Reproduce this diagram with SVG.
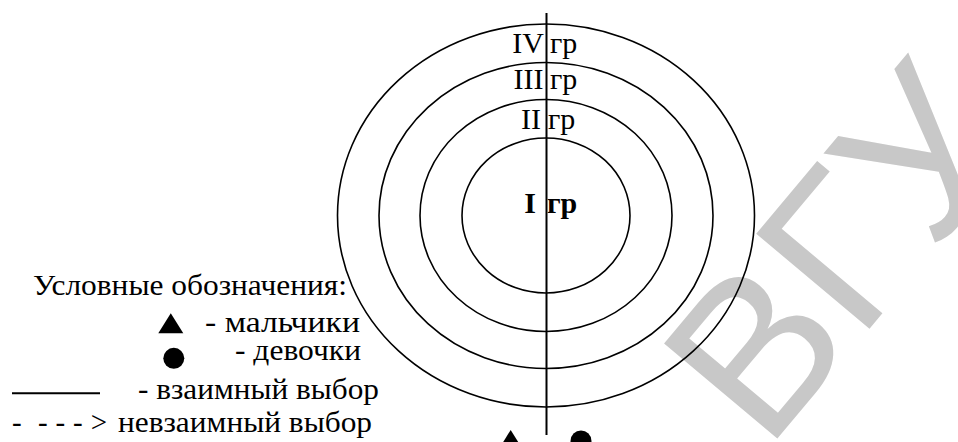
<svg xmlns="http://www.w3.org/2000/svg" width="958" height="442" viewBox="0 0 958 442">
  <style>
    .ring { fill: none; stroke: #000; stroke-width: 1.6; }
    .axis { stroke: #000; stroke-width: 2; }
    .t { font-family: "Liberation Serif", "Times New Roman", serif; fill: #000; }
    .lbl { font-size: 30px; }
    .leg { font-size: 29px; }
    .wm { font-family: "Liberation Sans", Arial, sans-serif; font-size: 215px; fill: #c8c8c8; }
  </style>
  <rect width="958" height="442" fill="#fff"/>

  <g id="watermark">
    <text class="wm" transform="translate(766,452) rotate(-50)">ВГУ</text>
  </g>

  <g id="rings">
    <ellipse id="ring-1" class="ring" cx="546" cy="215.5" rx="84" ry="77.5"/>
    <ellipse id="ring-2" class="ring" cx="546" cy="215.5" rx="126" ry="116"/>
    <ellipse id="ring-3" class="ring" cx="546" cy="215.5" rx="167" ry="153"/>
    <ellipse id="ring-4" class="ring" cx="546" cy="215.5" rx="208.5" ry="191.5"/>
  </g>

  <g id="connectors">
    <line class="axis" x1="546.5" y1="13" x2="546.5" y2="435"/>
  </g>

  <g id="labels">
    <text class="t lbl"><tspan x="544" y="52.5" text-anchor="end">IV</tspan><tspan x="550" y="52.5">гр</tspan></text>
    <text class="t lbl"><tspan x="543.5" y="88.5" text-anchor="end">III</tspan><tspan x="550" y="88.5">гр</tspan></text>
    <text class="t lbl"><tspan x="541" y="128.5" text-anchor="end">II</tspan><tspan x="548" y="128.5">гр</tspan></text>
    <text class="t lbl" font-size="31" font-weight="bold"><tspan x="536" y="212.5" text-anchor="end">I</tspan><tspan x="547" y="212.5">гр</tspan></text>
  </g>

  <g id="bottom-symbols">
    <polygon points="510.7,430 523.2,450 498.2,450" fill="#000"/>
    <circle cx="581" cy="441" r="10.5" fill="#000"/>
  </g>

  <g id="legend">
    <text class="t leg" x="33" y="295" textLength="314" lengthAdjust="spacingAndGlyphs">Условные обозначения:</text>
    <polygon points="170.8,313.3 183.3,333.3 158.3,333.3" fill="#000"/>
    <text class="t leg" x="205" y="331.5" textLength="155" lengthAdjust="spacingAndGlyphs">- мальчики</text>
    <circle cx="173.8" cy="358.3" r="10.5" fill="#000"/>
    <text class="t leg" x="235" y="360" textLength="126" lengthAdjust="spacingAndGlyphs">- девочки</text>
    <line x1="12" y1="393.3" x2="100" y2="393.3" stroke="#000" stroke-width="2"/>
    <text class="t leg" x="138" y="398.5" textLength="241" lengthAdjust="spacingAndGlyphs">- взаимный выбор</text>
    <text class="t leg" y="431.5"><tspan x="12">-</tspan><tspan x="38" textLength="69" lengthAdjust="spacing">- - - &gt;</tspan><tspan x="118" textLength="254" lengthAdjust="spacingAndGlyphs">невзаимный выбор</tspan></text>
  </g>
</svg>
